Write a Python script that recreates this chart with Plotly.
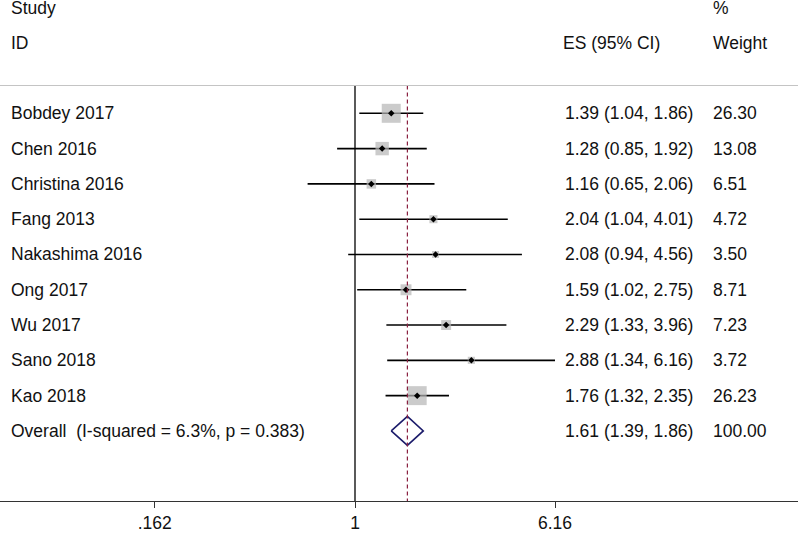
import math
import plotly.graph_objects as go

# ---------------- data ----------------
studies = ["Bobdey 2017", "Chen 2016", "Christina 2016", "Fang 2013", "Nakashima 2016",
           "Ong 2017", "Wu 2017", "Sano 2018", "Kao 2018"]
es = [1.39, 1.28, 1.16, 2.04, 2.08, 1.59, 2.29, 2.88, 1.76]
ci_lo = [1.04, 0.85, 0.65, 1.04, 0.94, 1.02, 1.33, 1.34, 1.32]
ci_hi = [1.86, 1.92, 2.06, 4.01, 4.56, 2.75, 3.96, 6.16, 2.35]
weights = [26.30, 13.08, 6.51, 4.72, 3.50, 8.71, 7.23, 3.72, 26.23]

overall_es = 1.61
overall_lo = 1.39
overall_hi = 1.86
overall_weight = 100.00
i_squared = 6.3
p_value = 0.383

tick_vals = [0.162, 1, 6.16]
tick_text = [".162", "1", "6.16"]

# ---------------- layout constants ----------------
W, H = 800, 533
PLOT_W = 798
FONT = "Liberation Sans, Arial, sans-serif"
FS = 17.5
TXT = "#111111"

first_row = 3
rows = [first_row + i for i in range(len(studies))]
overall_row = first_row + len(studies)

px_per_dec = 200 / math.log10(6.16)
x_range = [-355 / px_per_dec, (PLOT_W - 355) / px_per_dec]
y_range = [(504 - 7.5) / 35.5, (0 - 7.5) / 35.5]   # reversed
top_line_row = (86 - 7.5) / 35.5
bottom_row = y_range[0]

def paper_x(px):
    return (px - 2) / PLOT_W

fig = go.Figure()

# CI lines
cx, cy = [], []
for lo, hi, r in zip(ci_lo, ci_hi, rows):
    cx += [lo, hi, None]
    cy += [r, r, None]
fig.add_trace(go.Scatter(x=cx, y=cy, mode="lines",
                         line=dict(color="black", width=1.6), hoverinfo="skip"))

# weight boxes
max_w = max(weights)
sizes = [19 * math.sqrt(w / max_w) for w in weights]
fig.add_trace(go.Scatter(x=es, y=rows, mode="markers",
                         marker=dict(symbol="square", size=sizes, color="#b5b5b5",
                                     line=dict(width=0)), hoverinfo="skip"))
# point estimates
fig.add_trace(go.Scatter(x=es, y=rows, mode="markers",
                         marker=dict(symbol="diamond", size=5, color="black"),
                         hoverinfo="skip"))

# overall diamond
dh = 0.41
fig.add_trace(go.Scatter(x=[overall_lo, overall_es, overall_hi, overall_es, overall_lo],
                         y=[overall_row, overall_row - dh, overall_row, overall_row + dh, overall_row],
                         mode="lines", line=dict(color="#1c1c6b", width=1.6),
                         hoverinfo="skip"))

# reference lines
fig.add_shape(type="line", xref="x", yref="y", x0=1, x1=1, y0=top_line_row, y1=bottom_row,
              line=dict(color="black", width=1.3))
fig.add_shape(type="line", xref="x", yref="y", x0=overall_es, x1=overall_es,
              y0=top_line_row, y1=bottom_row,
              line=dict(color="#8a2040", width=1.2, dash="4px,3px"))
fig.add_shape(type="line", xref="paper", yref="y", x0=0, x1=1, y0=top_line_row, y1=top_line_row,
              line=dict(color="#c4c4c4", width=1.2))

# text
def add_text(px, row, text, dy=0):
    fig.add_annotation(x=paper_x(px), y=row, xref="paper", yref="y", text=text,
                       showarrow=False, xanchor="left", yanchor="middle", yshift=dy,
                       font=dict(family=FONT, size=FS, color=TXT))

add_text(11, 0, "Study", -1)
add_text(11, 1, "ID")
add_text(563, 1, "ES (95% CI)")
add_text(713, 0, "%", -1)
add_text(713, 1, "Weight")

for name, e, lo, hi, w, r in zip(studies, es, ci_lo, ci_hi, weights, rows):
    add_text(11, r, name)
    add_text(565, r, f"{e:.2f} ({lo:.2f}, {hi:.2f})")
    add_text(713, r, f"{w:.2f}")

add_text(11, overall_row, f"Overall\u00a0\u00a0(I-squared = {i_squared}%, p = {p_value})")
add_text(565, overall_row, f"{overall_es:.2f} ({overall_lo:.2f}, {overall_hi:.2f})")
add_text(713, overall_row, f"{overall_weight:.2f}")

fig.update_layout(
    width=W, height=H,
    margin=dict(l=0, r=W - PLOT_W, t=0, b=H - 504),
    paper_bgcolor="white", plot_bgcolor="white",
    showlegend=False,
    xaxis=dict(type="log", range=x_range, tickvals=tick_vals, ticktext=tick_text,
               showline=True, linecolor="#333333", linewidth=1.3,
               ticks="outside", ticklen=6, tickcolor="#333333", tickwidth=1.2,
               showgrid=False, zeroline=False,
               tickfont=dict(family=FONT, size=FS, color=TXT)),
    yaxis=dict(range=y_range, visible=False, showgrid=False, zeroline=False),
)

fig.write_html("out.html", config={"displayModeBar": False},
               post_script="document.body.style.margin='0';document.body.style.overflow='hidden';")
